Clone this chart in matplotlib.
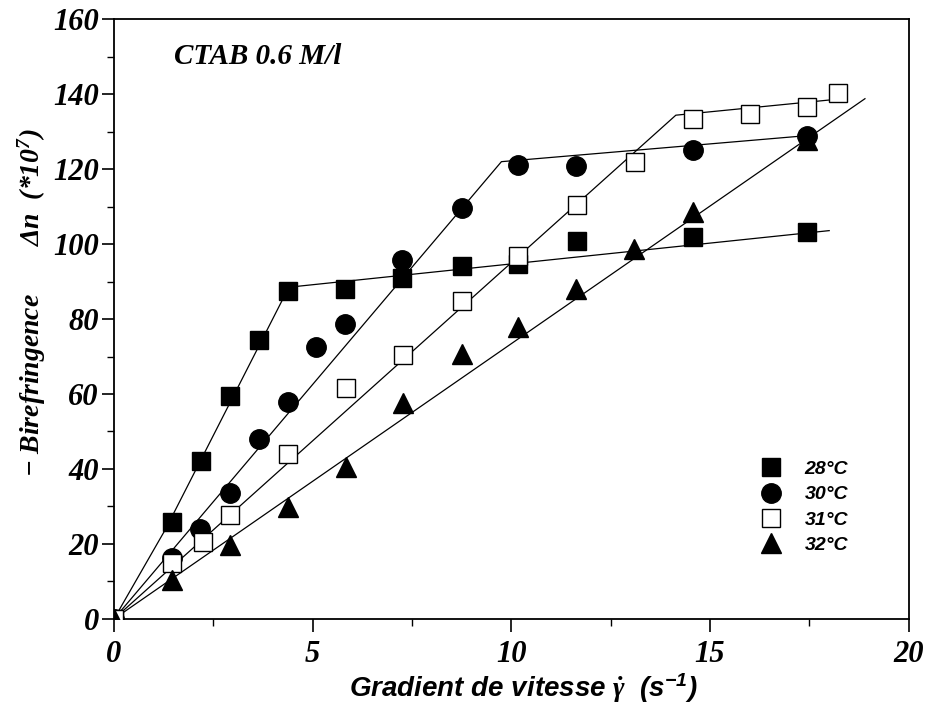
import matplotlib
matplotlib.use("Agg")
import matplotlib.pyplot as plt
from matplotlib.ticker import MultipleLocator

plt.rcParams['mathtext.fontset'] = 'custom'
plt.rcParams['mathtext.rm'] = 'Liberation Serif:bold:italic'
plt.rcParams['mathtext.it'] = 'Liberation Serif:bold:italic'
plt.rcParams['mathtext.sf'] = 'Liberation Sans:bold:italic'

# measured points (shear rate in s^-1, birefringence *1e7)
x28 = [0, 1.47, 2.2, 2.92, 3.66, 4.39, 5.81, 7.26, 8.75, 10.17, 11.64, 14.57, 17.44]
y28 = [0, 25.9, 42.1, 59.6, 74.5, 87.6, 88.0, 91.0, 94.1, 94.7, 100.7, 102.0, 103.1]

x30 = [0, 1.45, 2.16, 2.92, 3.66, 4.39, 5.08, 5.81, 7.26, 8.75, 10.17, 11.62, 14.56, 17.44]
y30 = [0, 16.2, 24.1, 33.5, 48.1, 57.9, 72.5, 78.7, 95.7, 109.6, 121.1, 120.9, 125.1, 128.9]

x31 = [0, 1.45, 2.25, 2.92, 4.39, 5.84, 7.28, 8.75, 10.17, 11.64, 13.1, 14.56, 16.0, 17.44, 18.22]
y31 = [0, 14.8, 20.6, 27.7, 43.9, 61.7, 70.3, 84.9, 96.9, 110.5, 122.0, 133.3, 134.6, 136.7, 140.4]

x32 = [0, 1.45, 2.92, 4.39, 5.84, 7.28, 8.75, 10.17, 11.62, 13.08, 14.56, 17.44]
y32 = [0, 10.4, 19.7, 29.9, 40.5, 57.6, 70.7, 77.8, 88.0, 98.7, 108.5, 127.9]

# fitted line segments
fx28 = [0, 1.3, 4.4, 18.0]
fy28 = [0, 24.0, 88.5, 103.6]
fx30 = [0, 9.75, 17.5]
fy30 = [0, 122.0, 129.0]
fx31 = [0, 14.14, 18.43]
fy31 = [0, 134.4, 138.9]
fx32 = [0, 18.9]
fy32 = [0, 138.8]

fig = plt.figure(figsize=(9.31, 7.13), dpi=100)
ax = fig.add_axes([0.1225, 0.132, 0.8535, 0.841])

for fx, fy in [(fx28, fy28), (fx30, fy30), (fx31, fy31), (fx32, fy32)]:
    ax.plot(fx, fy, color='black', lw=0.9, zorder=2)

ax.plot(x28, y28, ls='none', marker='s', ms=12.5, color='black', label='28°C', zorder=3)
ax.plot(x30, y30, ls='none', marker='o', ms=14, color='black', label='30°C', zorder=3)
ax.plot(x31, y31, ls='none', marker='s', ms=12.5, mfc='white', mec='black', mew=1.0,
        label='31°C', zorder=3)
ax.plot(x32, y32, ls='none', marker='^', ms=14, color='black', label='32°C', zorder=4)

ax.set_xlim(0, 20)
ax.set_ylim(0, 160)
ax.xaxis.set_major_locator(MultipleLocator(5))
ax.xaxis.set_minor_locator(MultipleLocator(2.5))
ax.yaxis.set_major_locator(MultipleLocator(20))
ax.yaxis.set_minor_locator(MultipleLocator(10))
ax.tick_params(which='major', direction='out', length=9, width=1.2)
ax.tick_params(which='minor', direction='out', length=5, width=1.0)
ax.tick_params(axis='x', which='major', pad=6)
ax.tick_params(axis='y', which='major', pad=2)
for lbl in ax.get_xticklabels() + ax.get_yticklabels():
    lbl.set_fontfamily('Liberation Serif')
    lbl.set_fontstyle('italic')
    lbl.set_fontweight('bold')
    lbl.set_fontsize(22)
for s in ax.spines.values():
    s.set_linewidth(1.3)

ax.text(0.075, 0.96, 'CTAB 0.6 M/l', transform=ax.transAxes, ha='left', va='top',
        family='Liberation Serif', style='italic', weight='bold', fontsize=21)

ax.set_xlabel(r'Gradient de vitesse $\dot{\gamma}$  $\mathsf{(s^{-1})}$',
              family='Liberation Sans', style='italic', weight='bold', fontsize=20)
ax.xaxis.set_label_coords(0.515, -0.087)
ax.set_ylabel(r'$-$ Birefringence       $\Delta n$  (*$10^7$)',
              family='Liberation Serif', style='italic', weight='bold', fontsize=20)
ax.yaxis.set_label_coords(-0.083, 0.527)

leg = ax.legend(loc='center left', bbox_to_anchor=(0.815, 0.186), frameon=False,
                handlelength=1.0, handletextpad=1.2, labelspacing=0.4, borderpad=0,
                borderaxespad=0, markerscale=1.0,
                prop={'family': 'Liberation Sans', 'style': 'italic', 'weight': 'bold', 'size': 14})

fig.savefig('out.png', dpi=100)
